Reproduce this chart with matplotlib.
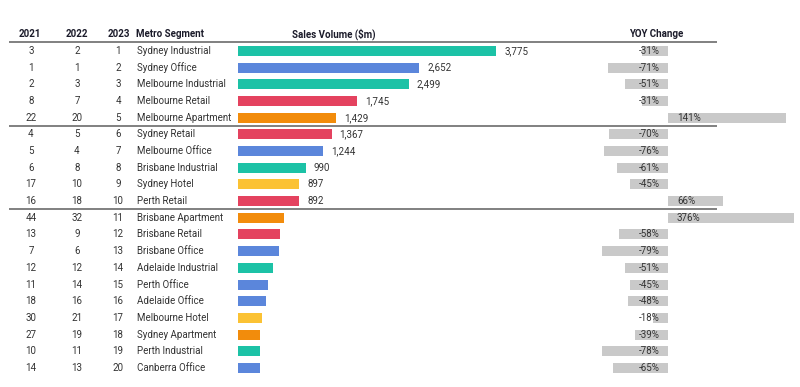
import numpy as np
import matplotlib.pyplot as plt

plt.rcParams['font.family'] = ['Roboto', 'DejaVu Sans']

rank_2021 = [3, 1, 2, 8, 22, 4, 5, 6, 17, 16, 44, 13, 7, 12, 11, 18, 30, 27, 10, 14]
rank_2022 = [2, 1, 3, 7, 20, 5, 4, 8, 10, 18, 32, 9, 6, 12, 14, 16, 21, 19, 11, 13]
rank_2023 = list(range(1, 21))
segments = ['Sydney Industrial', 'Sydney Office', 'Melbourne Industrial', 'Melbourne Retail',
            'Melbourne Apartment', 'Sydney Retail', 'Melbourne Office', 'Brisbane Industrial',
            'Sydney Hotel', 'Perth Retail', 'Brisbane Apartment', 'Brisbane Retail',
            'Brisbane Office', 'Adelaide Industrial', 'Perth Office', 'Adelaide Office',
            'Melbourne Hotel', 'Sydney Apartment', 'Perth Industrial', 'Canberra Office']
sector = ['Industrial', 'Office', 'Industrial', 'Retail', 'Apartment', 'Retail', 'Office',
          'Industrial', 'Hotel', 'Retail', 'Apartment', 'Retail', 'Office', 'Industrial',
          'Office', 'Office', 'Hotel', 'Apartment', 'Industrial', 'Office']
sales = [3775, 2652, 2499, 1745, 1429, 1367, 1244, 990, 897, 892,
         677, 614, 604, 517, 439, 404, 351, 327, 317, 317]
show_label = [True] * 10 + [False] * 10
yoy = [-31, -71, -51, -31, 141, -70, -76, -61, -45, 66,
       376, -58, -79, -51, -45, -48, -18, -39, -78, -65]

sector_colors = {'Industrial': '#1cc2a6', 'Office': '#5b86db', 'Retail': '#e4425f',
                 'Apartment': '#f28c0c', 'Hotel': '#fbc234'}

W, H = 800, 387
fig = plt.figure(figsize=(W / 100, H / 100), dpi=100)

# row geometry: row 0 at 51px from top, 16.68px per row
row_px = 16.68
top_row = -51 / row_px
bot_row = (H - 51) / row_px
ylim = (bot_row, top_row)
rows = np.arange(len(segments))

tab = fig.add_axes([0, 0, 1, 1])
tab.set_xlim(0, W)
tab.set_ylim(*ylim)
tab.axis('off')

txt = '#333333'
hdr = '#1b1b2a'
fs = 7.0
hy = -1.02
tab.text(30, hy, '2021', ha='center', va='center', fontsize=fs, fontweight='bold', color=hdr)
tab.text(77, hy, '2022', ha='center', va='center', fontsize=fs, fontweight='bold', color=hdr)
tab.text(119, hy, '2023', ha='center', va='center', fontsize=fs, fontweight='bold', color=hdr)
tab.text(136, hy, 'Metro Segment', ha='left', va='center', fontsize=fs, fontweight='bold', color=hdr)
tab.text(334, hy, 'Sales Volume ($m)', ha='center', va='center', fontsize=fs, fontweight='bold', color=hdr)
tab.text(656, hy, 'YOY Change', ha='center', va='center', fontsize=fs, fontweight='bold', color=hdr)

for i in rows:
    tab.text(31, i, str(rank_2021[i]), ha='center', va='center', fontsize=fs, color=txt)
    tab.text(77, i, str(rank_2022[i]), ha='center', va='center', fontsize=fs, color=txt)
    tab.text(118, i, str(rank_2023[i]), ha='center', va='center', fontsize=fs, color=txt)
    tab.text(137, i, segments[i], ha='left', va='center', fontsize=fs, color=txt)

for yl in [-0.53, 4.5, 9.5]:
    tab.plot([9, 717], [yl, yl], color='#808080', lw=1.4, solid_capstyle='butt')

# sales bars
scale = 0.0684  # px per $m
x0 = 238
ax = fig.add_axes([x0 / W, 0, 300 / W, 1])
ax.set_xlim(0, 300 / scale)
ax.set_ylim(*ylim)
ax.axis('off')
ax.barh(rows, sales, height=0.6, color=[sector_colors[s] for s in sector])
for i in rows:
    if show_label[i]:
        ax.text(sales[i] + 8 / scale, i, f'{sales[i]:,}', ha='left', va='center',
                fontsize=fs, color=txt)

# YOY bars (clipped at the right edge)
yscale = 0.84  # px per %
zero = 668
left, right = 560, 794
ay = fig.add_axes([left / W, 0, (right - left) / W, 1])
ay.set_xlim((left - zero) / yscale, (right - zero) / yscale)
ay.set_ylim(*ylim)
ay.axis('off')
ay.barh(rows, yoy, height=0.6, color='#c9c9c9')
for i in rows:
    if yoy[i] < 0:
        ay.text(-8 / yscale, i, f'{yoy[i]}%', ha='right', va='center', fontsize=fs, color=txt)
    else:
        ay.text(9 / yscale, i, f'{yoy[i]}%', ha='left', va='center', fontsize=fs, color=txt)

fig.savefig('out.png', dpi=100)
